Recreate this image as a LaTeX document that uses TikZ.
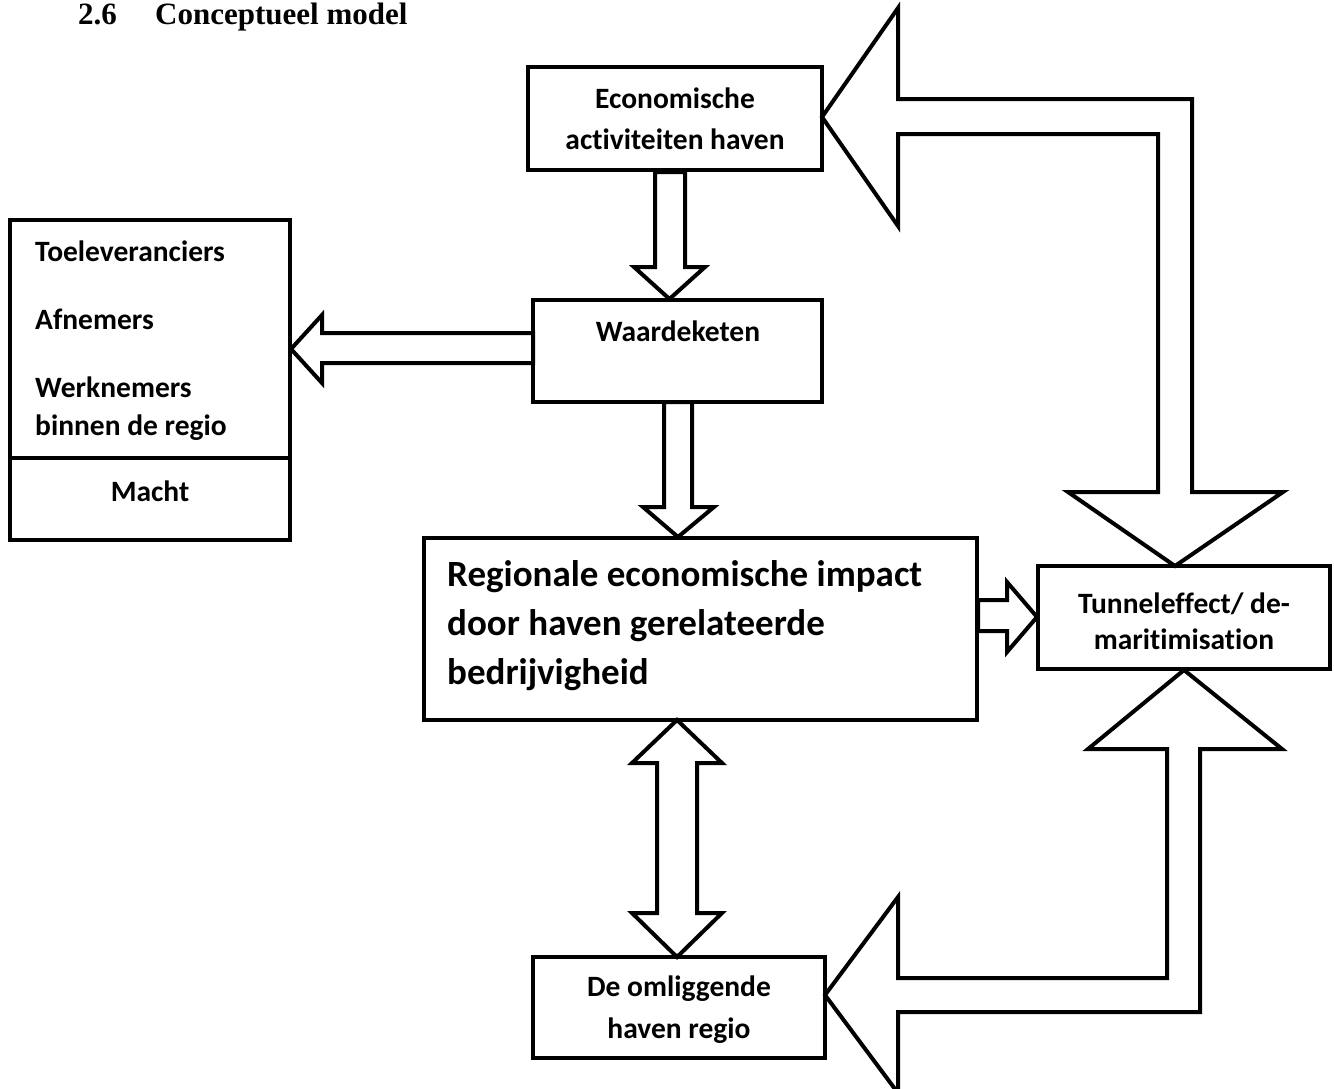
\documentclass[tikz,border=0pt]{standalone}
\usepackage{fontspec}
\newfontfamily\boxfont{Carlito}[Ligatures=CommonOff]
\newfontfamily\titlefont{Liberation Serif}
\begin{document}
\begin{tikzpicture}[x=1pt,y=-1pt,
  box/.style={draw, line width=4.5pt, inner sep=0pt, outer sep=0pt},
  blockarrow/.style={draw, line width=4pt, line join=miter, fill=white},
  txt/.style={inner sep=0pt, font=\boxfont\bfseries\fontsize{29.5}{29.5}\selectfont},
  bigtxt/.style={inner sep=0pt, font=\boxfont\bfseries\fontsize{37}{37}\selectfont},
  titletxt/.style={inner sep=0pt, font=\titlefont\bfseries\fontsize{31}{31}\selectfont}]
\useasboundingbox (0,0) rectangle (1334,1088);
\fill[white] (0,0) rectangle (1334,1088);

% title
\node[titletxt, anchor=base west] (tnum) at (78,24) {2.6};
\node[titletxt, anchor=base west] (ttitle) at (155,24) {Conceptueel model};

% block arrows
% Economische -> Waardeketen
\draw[blockarrow] (655,172) -- (655,267) -- (634,267) -- (669.5,299) -- (705,267) -- (685,267) -- (685,172) -- cycle;
% Waardeketen -> left box
\draw[blockarrow] (533,333) -- (322,333) -- (322,315) -- (291,349) -- (322,383) -- (322,363) -- (533,363) -- cycle;
% Waardeketen -> Regionale
\draw[blockarrow] (664,402) -- (664,507) -- (643,507) -- (678,537) -- (714,507) -- (692,507) -- (692,402) -- cycle;
% Regionale -> Tunneleffect
\draw[blockarrow] (978,600) -- (1007,600) -- (1007,582) -- (1037,617) -- (1007,652) -- (1007,631) -- (978,631) -- cycle;
% Regionale <-> De omliggende
\draw[blockarrow] (677,720) -- (722,763) -- (697,763) -- (697,913) -- (722,913) -- (677,957) -- (632,913) -- (657,913) -- (657,763) -- (632,763) -- cycle;
% big upper arrow Economische <-> Tunneleffect
\draw[blockarrow] (822,117) -- (898,8) -- (898,99) -- (1192,99) -- (1192,492) -- (1283,492) -- (1175,566) -- (1068,492) -- (1158,492) -- (1158,134) -- (898,134) -- (898,226) -- cycle;
% big lower arrow De omliggende <-> Tunneleffect
\draw[blockarrow] (825,995) -- (898,897) -- (898,978) -- (1167,978) -- (1167,749) -- (1088,749) -- (1184,670) -- (1282,749) -- (1200,749) -- (1200,1012) -- (898,1012) -- (898,1093) -- cycle;

% boxes
\node[box, minimum width=294pt, minimum height=103pt] (econ) at (675,118.5) {};
\node[box, minimum width=289pt, minimum height=102pt] (waard) at (677.5,351) {};
\node[box, minimum width=280pt, minimum height=320pt] (left) at (150,380) {};
\draw[line width=4.5pt] (left.west |- 0,458) -- (left.east |- 0,458);
\node[box, minimum width=553pt, minimum height=182pt] (reg) at (700.5,629) {};
\node[box, minimum width=292pt, minimum height=103pt] (tunnel) at (1184,617.5) {};
\node[box, minimum width=292pt, minimum height=101pt] (omlig) at (679,1007.5) {};

% texts
\node[txt, anchor=base] (e1) at (675,108) {Economische};
\node[txt, anchor=base] (e2) at (675,149) {activiteiten haven};
\node[txt, anchor=base] (w1) at (678,341) {Waardeketen};
\node[txt, anchor=base west] (l1) at (35,261) {Toeleveranciers};
\node[txt, anchor=base west] (l2) at (35,329) {Afnemers};
\node[txt, anchor=base west] (l3) at (35,397) {Werknemers};
\node[txt, anchor=base west] (l4) at (35,435) {binnen de regio};
\node[txt, anchor=base] (l5) at (150,501) {Macht};
\node[bigtxt, anchor=base west] (r1) at (447,586) {Regionale economische impact};
\node[bigtxt, anchor=base west] (r2) at (447,635) {door haven gerelateerde};
\node[bigtxt, anchor=base west] (r3) at (447,684) {bedrijvigheid};
\node[txt, anchor=base] (u1) at (1184,613) {Tunneleffect/ de-};
\node[txt, anchor=base] (u2) at (1184,649) {maritimisation};
\node[txt, anchor=base] (o1) at (679,996) {De omliggende};
\node[txt, anchor=base] (o2) at (679,1038) {haven regio};
\end{tikzpicture}
\end{document}
